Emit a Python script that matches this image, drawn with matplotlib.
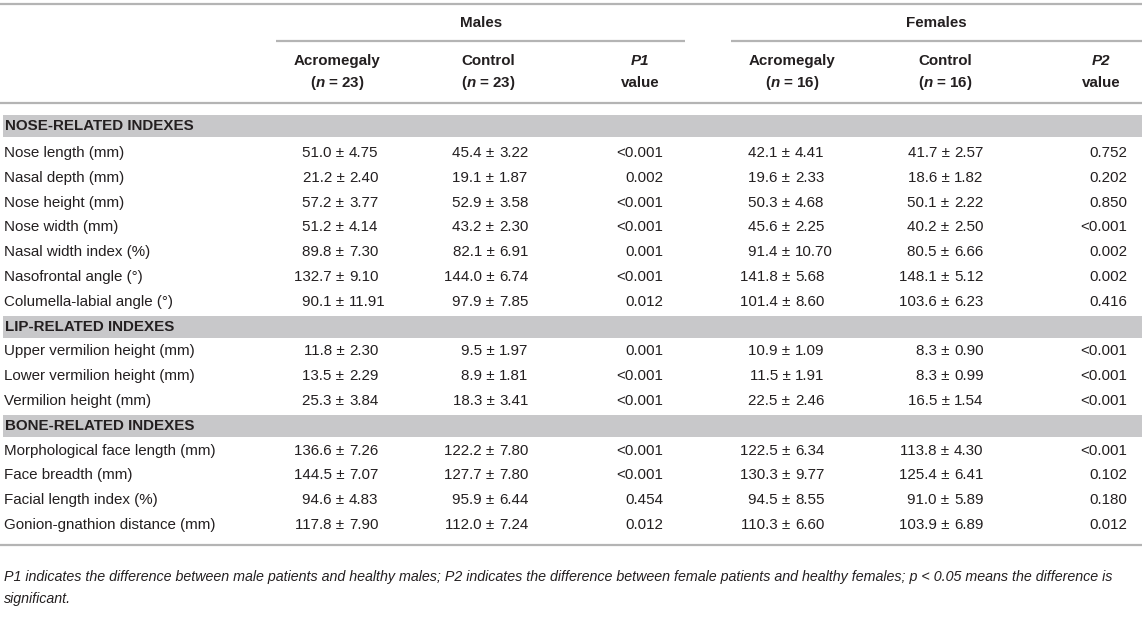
import matplotlib
matplotlib.use("Agg")
import matplotlib.pyplot as plt

plt.rcParams['font.family'] = ['Liberation Sans', 'DejaVu Sans']
plt.rcParams['mathtext.fontset'] = 'custom'
plt.rcParams['mathtext.rm'] = 'Liberation Sans'
plt.rcParams['mathtext.it'] = 'Liberation Sans:italic'
plt.rcParams['mathtext.bf'] = 'Liberation Sans:bold'
plt.rcParams['mathtext.bfit'] = 'Liberation Sans:italic:bold'

# ---------------- data ----------------
sections = ["NOSE-RELATED INDEXES", "LIP-RELATED INDEXES", "BONE-RELATED INDEXES"]
section_rows = [7, 3, 4]
row_labels = [
    "Nose length (mm)", "Nasal depth (mm)", "Nose height (mm)", "Nose width (mm)",
    "Nasal width index (%)", "Nasofrontal angle (°)", "Columella-labial angle (°)",
    "Upper vermilion height (mm)", "Lower vermilion height (mm)", "Vermilion height (mm)",
    "Morphological face length (mm)", "Face breadth (mm)", "Facial length index (%)",
    "Gonion-gnathion distance (mm)",
]
m_acro_mean = [51.0, 21.2, 57.2, 51.2, 89.8, 132.7, 90.1, 11.8, 13.5, 25.3, 136.6, 144.5, 94.6, 117.8]
m_acro_sd = [4.75, 2.40, 3.77, 4.14, 7.30, 9.10, 11.91, 2.30, 2.29, 3.84, 7.26, 7.07, 4.83, 7.90]
m_ctrl_mean = [45.4, 19.1, 52.9, 43.2, 82.1, 144.0, 97.9, 9.5, 8.9, 18.3, 122.2, 127.7, 95.9, 112.0]
m_ctrl_sd = [3.22, 1.87, 3.58, 2.30, 6.91, 6.74, 7.85, 1.97, 1.81, 3.41, 7.80, 7.80, 6.44, 7.24]
p1 = ["<0.001", "0.002", "<0.001", "<0.001", "0.001", "<0.001", "0.012",
      "0.001", "<0.001", "<0.001", "<0.001", "<0.001", "0.454", "0.012"]
f_acro_mean = [42.1, 19.6, 50.3, 45.6, 91.4, 141.8, 101.4, 10.9, 11.5, 22.5, 122.5, 130.3, 94.5, 110.3]
f_acro_sd = [4.41, 2.33, 4.68, 2.25, 10.70, 5.68, 8.60, 1.09, 1.91, 2.46, 6.34, 9.77, 8.55, 6.60]
f_ctrl_mean = [41.7, 18.6, 50.1, 40.2, 80.5, 148.1, 103.6, 8.3, 8.3, 16.5, 113.8, 125.4, 91.0, 103.9]
f_ctrl_sd = [2.57, 1.82, 2.22, 2.50, 6.66, 5.12, 6.23, 0.90, 0.99, 1.54, 4.30, 6.41, 5.89, 6.89]
p2 = ["0.752", "0.202", "0.850", "<0.001", "0.002", "0.002", "0.416",
      "<0.001", "<0.001", "<0.001", "<0.001", "0.102", "0.180", "0.012"]
groups = ["Males", "Females"]
group_n = [23, 16]
footnote_lines = [
    "P1 indicates the difference between male patients and healthy males; P2 indicates the "
    "difference between female patients and healthy females; p < 0.05 means the difference is",
    "significant.",
]

# ---------------- layout ----------------
W, H = 1145, 625
fig = plt.figure(figsize=(W / 100, H / 100), dpi=100)
ax = fig.add_axes([0, 0, 1, 1])
ax.set_xlim(0, W)
ax.set_ylim(H, 0)
ax.axis('off')

TXT = '#231f20'
LINE = '#b4b4b4'
BAND = '#c8c8ca'
FS = 10.9

# rules
ax.plot([0, 1142], [4, 4], color=LINE, lw=1.6, solid_capstyle='butt')
ax.plot([0, 1142], [103, 103], color=LINE, lw=1.6, solid_capstyle='butt')

group_centers = [481, 936]
group_spans = [(276, 685), (731, 1142)]
acro_x = [337, 792]
ctrl_x = [488, 945]
p_head_x = [640, 1101]
for g in range(2):
    ax.text(group_centers[g], 23, groups[g], ha='center', va='center', fontsize=FS,
            fontweight='bold', color=TXT)
    ax.plot(group_spans[g], [41, 41], color=LINE, lw=1.6, solid_capstyle='butt')
    ax.text(acro_x[g], 61, "Acromegaly", ha='center', va='center', fontsize=FS,
            fontweight='bold', color=TXT)
    ax.text(acro_x[g], 83, r"($\mathbfit{n}$ = %d)" % group_n[g], ha='center', va='center',
            fontsize=FS, fontweight='bold', color=TXT)
    ax.text(ctrl_x[g], 61, "Control", ha='center', va='center', fontsize=FS,
            fontweight='bold', color=TXT)
    ax.text(ctrl_x[g], 83, r"($\mathbfit{n}$ = %d)" % group_n[g], ha='center', va='center',
            fontsize=FS, fontweight='bold', color=TXT)
    ax.text(p_head_x[g], 61, "P%d" % (g + 1), ha='center', va='center', fontsize=FS,
            fontweight='bold', fontstyle='italic', color=TXT)
    ax.text(p_head_x[g], 83, "value", ha='center', va='center', fontsize=FS,
            fontweight='bold', color=TXT)

# body
pm_x = [340, 490, 786, 945]
p_right = [663, 1127]
cols_mean = [m_acro_mean, m_ctrl_mean, f_acro_mean, f_ctrl_mean]
cols_sd = [m_acro_sd, m_ctrl_sd, f_acro_sd, f_ctrl_sd]
pcols = [p1, p2]

pitch = 24.8
y = 126.0
r = 0
for s, nrows in zip(sections, section_rows):
    ax.fill_between([3, 1142], y - 11, y + 11, color=BAND, lw=0)
    ax.text(5, y, s, ha='left', va='center', fontsize=FS, fontweight='bold', color=TXT)
    y += 27.0 if r == 0 else pitch
    for k in range(nrows):
        ax.text(4, y, row_labels[r], ha='left', va='center', fontsize=FS, color=TXT)
        for c in range(4):
            ax.text(pm_x[c] + 4.5, y, "%.1f ±" % cols_mean[c][r], ha='right', va='center',
                    fontsize=FS, color=TXT)
            ax.text(pm_x[c] + 9, y, "%.2f" % cols_sd[c][r], ha='left', va='center',
                    fontsize=FS, color=TXT)
        for c in range(2):
            ax.text(p_right[c], y, pcols[c][r], ha='right', va='center', fontsize=FS, color=TXT)
        y += pitch
        r += 1

ax.plot([0, 1142], [545, 545], color=LINE, lw=1.6, solid_capstyle='butt')
for i, line in enumerate(footnote_lines):
    ax.text(4, 577 + 22 * i, line, ha='left', va='center', fontsize=10.3,
            fontstyle='italic', color=TXT)

fig.savefig("out.png", dpi=100)
